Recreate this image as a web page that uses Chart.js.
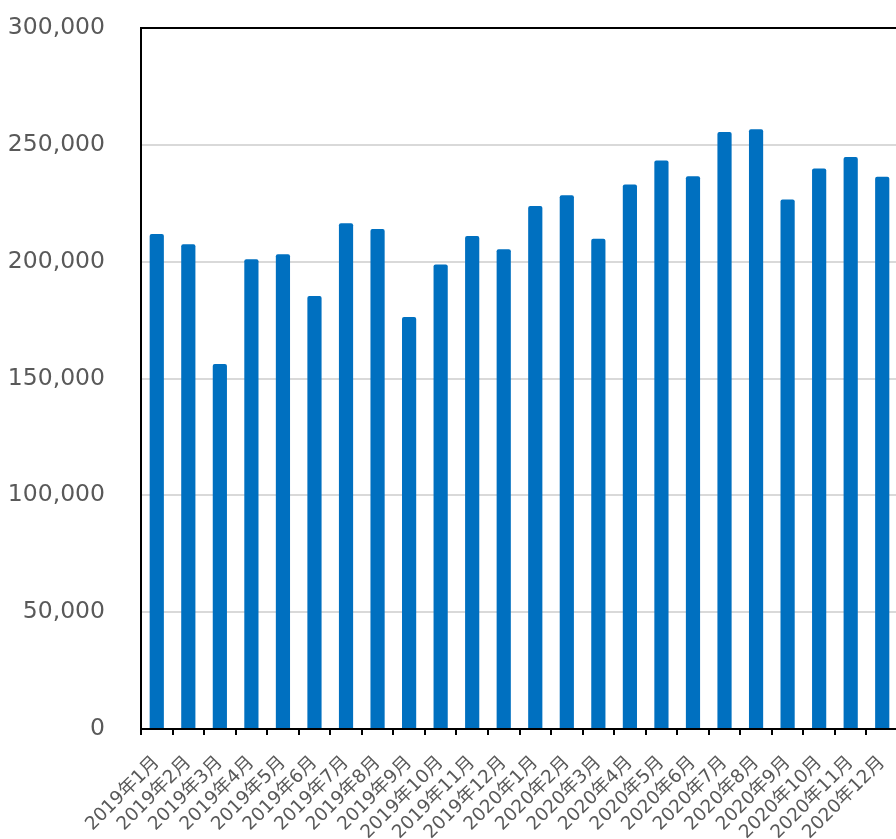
<!DOCTYPE html>
<html>
<head>
<meta charset="utf-8">
<script src="https://cdn.jsdelivr.net/npm/chart.js@4"></script>
<style>
    html, body { margin: 0; padding: 0; background: #fff; overflow: hidden; }
    #wrap { width: 898px; height: 839px; }
</style>
</head>
<body>
<div id="wrap"><canvas id="grafico"></canvas></div>
<script>
const meses = [
    '2019年1月', '2019年2月', '2019年3月', '2019年4月', '2019年5月', '2019年6月',
    '2019年7月', '2019年8月', '2019年9月', '2019年10月', '2019年11月', '2019年12月',
    '2020年1月', '2020年2月', '2020年3月', '2020年4月', '2020年5月', '2020年6月',
    '2020年7月', '2020年8月', '2020年9月', '2020年10月', '2020年11月', '2020年12月'
];
const valores = [
    211800, 207500, 156200, 201000, 203200, 185300,
    216400, 214000, 176300, 198800, 211000, 205300,
    223800, 228400, 209800, 233000, 243300, 236600,
    255500, 256700, 226600, 239900, 244800, 236300
];
const eixoY = { min: 0, max: 300000, step: 50000 };

const corTexto = '#595959';
const fonte = "'DejaVu Sans', 'Noto Sans CJK JP', sans-serif";

// linha superior da moldura
const moldura = {
    id: 'moldura',
    afterDraw(chart) {
        const { ctx, chartArea } = chart;
        ctx.save();
        ctx.strokeStyle = '#000';
        ctx.lineWidth = 2;
        ctx.beginPath();
        ctx.moveTo(chartArea.left, chartArea.top);
        ctx.lineTo(chartArea.right + 2, chartArea.top);
        ctx.stroke();
        ctx.restore();
    }
};

const grafico = new Chart(document.getElementById('grafico').getContext('2d'), {
    type: 'bar',
    data: {
        labels: meses,
        datasets: [{
            data: valores,
            backgroundColor: '#0070C0',
            borderRadius: 2,
            barPercentage: 0.45,
            categoryPercentage: 1
        }]
    },
    options: {
        responsive: true,
        maintainAspectRatio: false,
        animation: false,
        layout: {
            padding: { top: 28, left: 0, right: 0, bottom: 0 }
        },
        plugins: {
            legend: { display: false },
            tooltip: { enabled: false }
        },
        scales: {
            y: {
                min: eixoY.min,
                max: eixoY.max,
                afterFit: function (scale) {
                    scale.width = 141;
                    scale.paddingTop = 0;
                    scale.paddingBottom = 0;
                },
                ticks: {
                    stepSize: eixoY.step,
                    color: corTexto,
                    padding: 36,
                    font: { size: 23.5, family: fonte },
                    callback: function (value) {
                        return value.toLocaleString('en-US');
                    }
                },
                grid: {
                    color: '#d9d9d9',
                    lineWidth: 2,
                    drawTicks: false
                },
                border: { color: '#000', width: 2 }
            },
            x: {
                afterFit: function (scale) {
                    scale.height = 110;
                    scale.paddingRight = 0;
                },
                ticks: {
                    color: corTexto,
                    minRotation: 45,
                    maxRotation: 45,
                    autoSkip: false,
                    padding: 17,
                    font: { size: 18.5, family: fonte }
                },
                grid: {
                    offset: true,
                    drawOnChartArea: false,
                    color: '#000',
                    lineWidth: 2,
                    tickLength: 6
                },
                border: { color: '#000', width: 2 }
            }
        }
    },
    plugins: [moldura]
});
</script>
</body>
</html>
